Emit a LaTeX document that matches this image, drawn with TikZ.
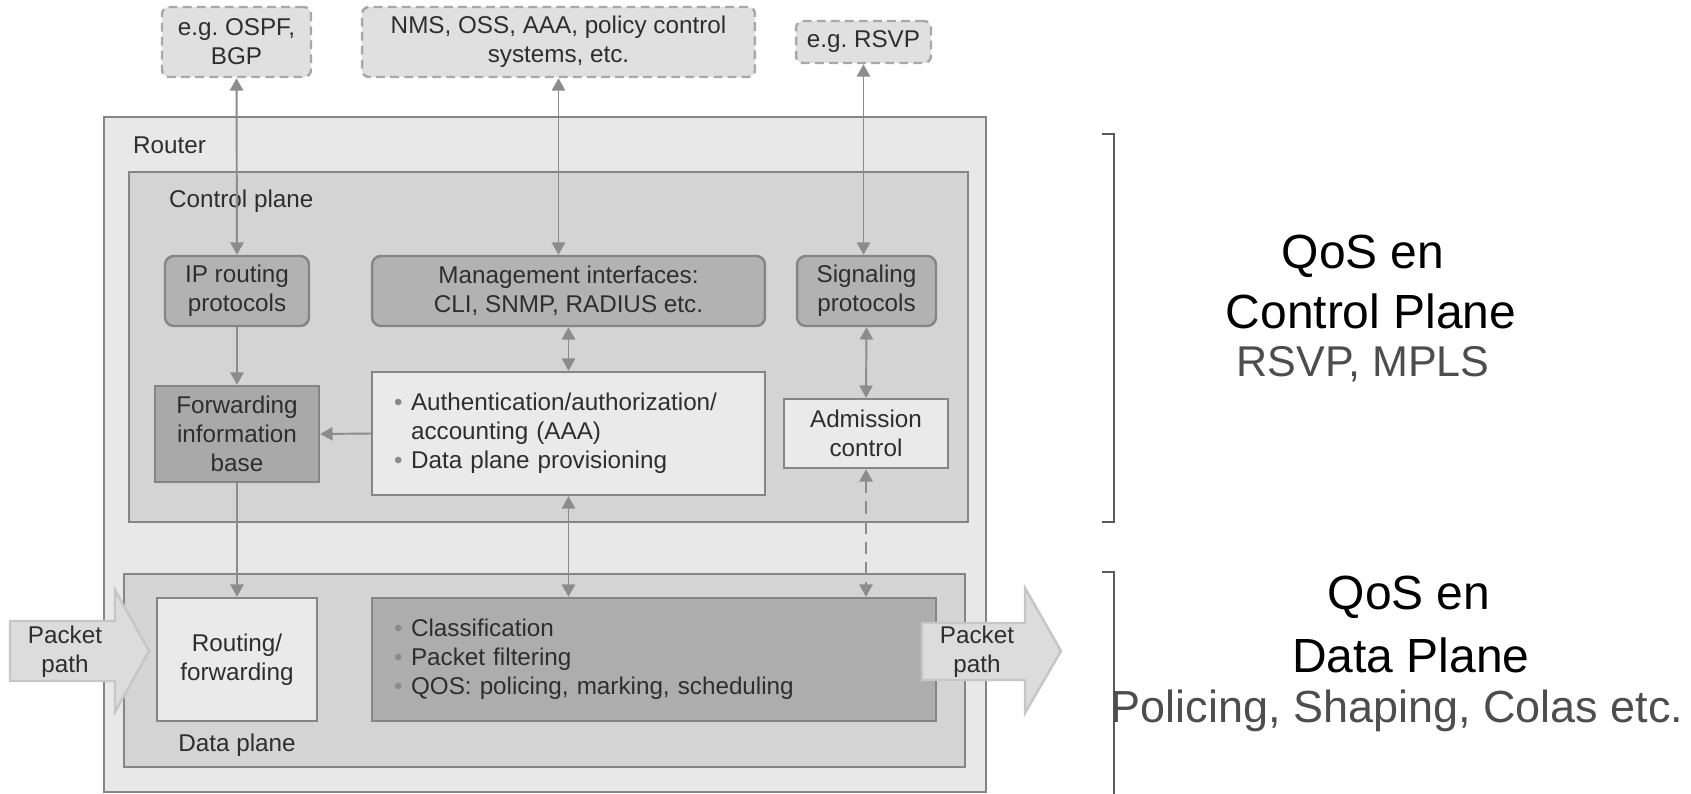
\documentclass[tikz,border=0pt]{standalone}
\usepackage{fontspec}
\setmainfont{Liberation Sans}
\usepackage{xcolor}
\usetikzlibrary{arrows.meta}
\definecolor{routerfill}{HTML}{E8E8E8}
\definecolor{planefill}{HTML}{D4D4D4}
\definecolor{boxline}{HTML}{858585}
\definecolor{softfill}{HTML}{B2B2B2}
\definecolor{fibfill}{HTML}{A9A9A9}
\definecolor{lightfill}{HTML}{EAEAEA}
\definecolor{clsfill}{HTML}{ADADAD}
\definecolor{extfill}{HTML}{E0E0E0}
\definecolor{extline}{HTML}{A8A8A8}
\definecolor{pktfill}{HTML}{DCDCDC}
\definecolor{pktline}{HTML}{C6C6C6}
\definecolor{linegray}{HTML}{8C8C8C}
\definecolor{dtext}{HTML}{2E2E2E}
\definecolor{subgray}{HTML}{4D4D4D}
\definecolor{brkgray}{HTML}{5A5A5A}
\definecolor{bulgray}{HTML}{8A8A8A}
\newcommand{\bul}{\makebox[0.34cm][l]{\textcolor{bulgray}{\textbullet}}}

\begin{document}
\begin{tikzpicture}[x=0.02cm,y=-0.02cm,
  font=\fontsize{13.8}{16.5}\selectfont,
  every node/.append style={text=dtext},
  extbox/.style={draw=extline,fill=extfill,line width=1.4pt,dash pattern=on 5pt off 3pt,rounded corners=4pt,align=center,inner sep=0pt,minimum height=1.4cm},
  softbox/.style={draw=boxline,fill=softfill,line width=1.4pt,rounded corners=5pt,align=center,inner sep=0pt,minimum height=1.4cm},
  plainbox/.style={draw=boxline,line width=1.4pt,align=center,inner sep=0pt},
  listbox/.style={draw=boxline,line width=1.4pt,align=left,inner ysep=0pt,inner xsep=0.44cm,minimum height=2.46cm},
  link/.style={draw=linegray,line width=1.1pt,{Triangle[length=7pt,width=7.5pt]}-{Triangle[length=7pt,width=7.5pt]}},
  onelink/.style={draw=linegray,line width=1.1pt,-{Triangle[length=7pt,width=7.5pt]}},
  pktshape/.style={draw=pktline,fill=pktfill,line width=1.4pt},
  brk/.style={draw=brkgray,line width=0.9pt},
  qosmain/.style={text=black,font=\fontsize{27.3}{30}\selectfont},
  qossub/.style={text=subgray,font=\fontsize{24.5}{28}\selectfont}]
\useasboundingbox (0,0) rectangle (1691,794);

%outside systems
\node[extbox,minimum width=2.98cm] (ospf) at (236.5,42) {e.g.\ OSPF,\\BGP};
\node[extbox,minimum width=7.86cm] (nms) at (558.5,42) {NMS, OSS, AAA, policy control\\systems, etc.};
\node[extbox,minimum width=2.70cm,minimum height=0.84cm] (rsvp) at (863.5,42) {e.g.\ RSVP};

%router
\draw[draw=boxline,fill=routerfill,line width=1.4pt] (104,117) rectangle (986,792);
\node[anchor=west] (rtrlbl) at (127,145) {Router};

%control plane
\draw[draw=boxline,fill=planefill,line width=1.4pt] (129,172) rectangle (968,522);
\node[anchor=west] (cplbl) at (163,201) {Control plane};

\node[softbox,minimum width=2.88cm] (ip) at (237,291) {IP routing\\protocols};
\node[softbox,minimum width=7.86cm] (mgmt) at (568.5,291) {Management interfaces:\\CLI, SNMP, RADIUS etc.};
\node[softbox,minimum width=2.78cm] (sig) at (866.5,291) {Signaling\\protocols};

\node[plainbox,fill=fibfill,minimum width=3.28cm,minimum height=1.92cm] (fib) at (237,434) {Forwarding\\information\\base};
\node[listbox,fill=lightfill,text width=6.98cm] (aaa) at (568.5,433.5)
  {\bul Authentication/authorization/\\\hspace*{0.34cm}accounting (AAA)\\\bul Data plane provisioning};
\node[plainbox,fill=lightfill,minimum width=3.28cm,minimum height=1.38cm] (adm) at (866,433.5) {Admission\\control};

%data plane
\draw[draw=boxline,fill=planefill,line width=1.4pt] (124,574) rectangle (965,767);
\node (dplbl) at (237,745) {Data plane};

\node[plainbox,fill=lightfill,minimum width=3.2cm,minimum height=2.46cm] (route) at (237,659.5) {Routing/\\forwarding};
\node[listbox,fill=clsfill,text width=10.4cm] (cls) at (654,659.5)
  {\bul Classification\\\bul Packet filtering\\\bul QOS: policing, marking, scheduling};

%connectors
\draw[link] (ospf.south) -- (ip.north);
\draw[link] (nms.south) -- (nms.south |- mgmt.north);
\draw[link] (rsvp.south) -- (rsvp.south |- sig.north);
\draw[onelink] (ip.south) -- (fib.north);
\draw[link] (mgmt.south) -- (aaa.north);
\draw[onelink] (aaa.west) -- (fib.east);
\draw[link] (sig.south) -- (adm.north);
\draw[onelink] (fib.south) -- (route.north);
\draw[link] (aaa.south) -- (aaa.south |- cls.north);
\draw[link,dash pattern=on 7pt off 4.5pt] (adm.south) -- (adm.south |- cls.north);

%packet path
\draw[pktshape] (10,621) -- (115,621) -- (115,590) -- (149,651) -- (115,712) -- (115,681) -- (10,681) -- cycle;
\node[align=center] (pktin) at (65,652) {Packet\\path};
\draw[pktshape] (922,623) -- (1025,623) -- (1025,588) -- (1061,651) -- (1025,713) -- (1025,680) -- (922,680) -- cycle;
\node[align=center] (pktout) at (977,652) {Packet\\path};

%brackets
\draw[brk] (1102,134) -- (1114,134) -- (1114,522) -- (1102,522);
\draw[brk] (1102,572) -- (1114,572) -- (1114,794);

%qos text
\node[qosmain] (qosc) at (1363,256) {QoS en};
\node[qosmain] (qoscp) at (1371,311) {Control Plane};
\node[qossub] (qoscs) at (1363,364) {RSVP, MPLS};
\node[qosmain] (qosd) at (1409,597) {QoS en};
\node[qosmain] (qosdp) at (1411,655) {Data Plane};
\node[qossub,font=\fontsize{25.6}{28}\selectfont] (qosds) at (1397,711) {Policing, Shaping, Colas etc.};
\end{tikzpicture}
\end{document}
